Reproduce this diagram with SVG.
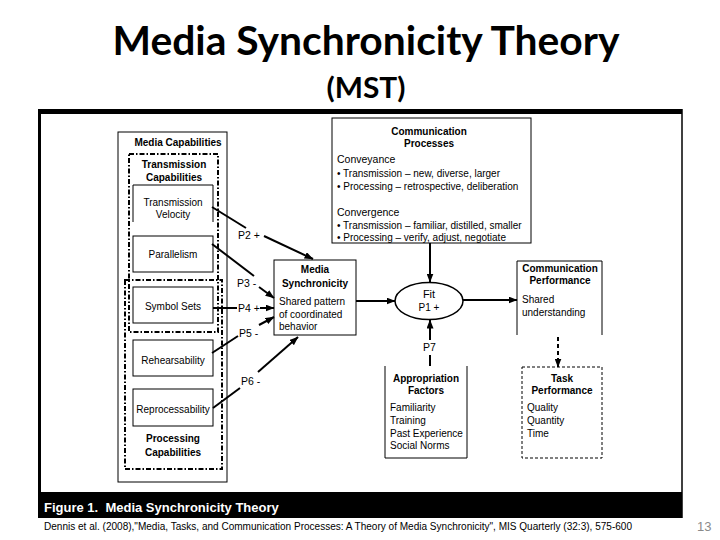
<svg xmlns="http://www.w3.org/2000/svg" width="720" height="540" viewBox="0 0 720 540">
<style>
text{font-family:"Liberation Sans",Arial,sans-serif;fill:#000}
.t{font-size:10px}
.b{font-size:10px;font-weight:bold}
.c{text-anchor:middle}
.lbl{font-size:10.5px}
.box{fill:#fff;stroke:#000;stroke-width:1}
.open{fill:none;stroke:#000;stroke-width:1}
.dd{fill:none;stroke:#000;stroke-width:2;stroke-dasharray:5 2 1.5 2}
.conn line,.conn path{stroke:#000;stroke-width:2;fill:none}
.ttl{font-family:Lato,"Open Sans","Liberation Sans",sans-serif;font-weight:bold;text-anchor:middle}
</style>
<defs>
<marker id="ah" markerWidth="9" markerHeight="7" refX="8.5" refY="3.5" orient="auto" markerUnits="userSpaceOnUse">
<path d="M0,0 L9,3.5 L0,7 Z" fill="#000"/>
</marker>
</defs>
<rect width="720" height="540" fill="#fff"/>
<g id="title">
<text class="ttl" x="366" y="55" style="font-size:40px" textLength="507" lengthAdjust="spacingAndGlyphs">Media Synchronicity Theory</text>
<text class="ttl" x="366" y="98" style="font-size:28px" textLength="79" lengthAdjust="spacingAndGlyphs">(MST)</text>
</g>
<g id="frame">
<rect x="38" y="109" width="644" height="5" fill="#000"/>
<rect x="38" y="109" width="3" height="409" fill="#000"/>
<line x1="682" y1="109" x2="682" y2="518" stroke="#000" stroke-width="1.5"/>
<rect x="38" y="492" width="644" height="26" fill="#000"/>
<text x="44" y="512" style="font-size:13px;font-weight:bold;fill:#fff" xml:space="preserve">Figure 1.  Media Synchronicity Theory</text>
</g>
<g id="media-capabilities">
<rect class="box" x="118" y="132" width="109" height="350"/>
<text class="b c" x="178" y="146">Media Capabilities</text>
</g>
<g id="transmission-capabilities">
<rect class="dd" x="129" y="154" width="89" height="178"/>
<text class="b c" x="174" y="168">Transmission</text>
<text class="b c" x="174" y="181">Capabilities</text>
</g>
<g id="processing-capabilities">
<rect class="dd" x="125" y="280" width="97" height="189"/>
<text class="b c" x="173" y="442">Processing</text>
<text class="b c" x="173" y="456">Capabilities</text>
</g>
<g id="transmission-velocity">
<path class="open" d="M133,222 V185 H213 V222"/>
<text class="t c" x="173" y="206">Transmission</text>
<text class="t c" x="173" y="218">Velocity</text>
</g>
<g id="parallelism">
<rect class="box" x="133" y="236" width="80" height="36"/>
<text class="t c" x="173" y="258">Parallelism</text>
</g>
<g id="symbol-sets">
<rect class="box" x="133" y="287" width="80" height="36"/>
<text class="t c" x="173" y="310">Symbol Sets</text>
</g>
<g id="rehearsability">
<rect class="box" x="133" y="340" width="80" height="36"/>
<text class="t c" x="173" y="364">Rehearsability</text>
</g>
<g id="reprocessability">
<rect class="box" x="133" y="389" width="80" height="37"/>
<text class="t c" x="173" y="413">Reprocessability</text>
</g>
<g id="communication-processes">
<rect class="box" x="332" y="118" width="199" height="125"/>
<text class="b c" x="429" y="135">Communication</text>
<text class="b c" x="429" y="147">Processes</text>
<text x="337" y="163" style="font-size:10.5px">Conveyance</text>
<text class="t" x="337" y="177">• Transmission – new, diverse, larger</text>
<text class="t" x="337" y="190">• Processing – retrospective, deliberation</text>
<text x="337" y="216" style="font-size:10.5px">Convergence</text>
<text class="t" x="337" y="229">• Transmission – familiar, distilled, smaller</text>
<text class="t" x="337" y="241">• Processing – verify, adjust, negotiate</text>
</g>
<g id="media-synchronicity">
<rect class="box" x="274" y="260" width="82" height="75"/>
<text class="b c" x="315" y="273">Media</text>
<text class="b c" x="315" y="287">Synchronicity</text>
<text class="t" x="279" y="305">Shared pattern</text>
<text class="t" x="279" y="318">of coordinated</text>
<text class="t" x="279" y="330">behavior</text>
</g>
<g id="fit">
<ellipse cx="429" cy="301" rx="34" ry="18.5" fill="#fff" stroke="#000" stroke-width="1.5"/>
<text class="c" x="429" y="298" style="font-size:11px">Fit</text>
<text class="t c" x="429" y="311">P1 +</text>
</g>
<g id="communication-performance">
<path class="open" d="M517,335 V261 H602 V335"/>
<text class="b c" x="560" y="272">Communication</text>
<text class="b c" x="560" y="284">Performance</text>
<text class="t" x="522" y="303">Shared</text>
<text class="t" x="522" y="316">understanding</text>
</g>
<g id="task-performance">
<rect x="522" y="367" width="80" height="91" fill="none" stroke="#000" stroke-width="1" stroke-dasharray="3 2"/>
<text class="b c" x="562" y="382">Task</text>
<text class="b c" x="562" y="394">Performance</text>
<text class="t" x="527" y="411">Quality</text>
<text class="t" x="527" y="424">Quantity</text>
<text class="t" x="527" y="437">Time</text>
</g>
<g id="appropriation-factors">
<path class="open" d="M385,366 V458 H467 V366"/>
<text class="b c" x="426" y="382">Appropriation</text>
<text class="b c" x="426" y="394">Factors</text>
<text class="t" x="390" y="411">Familiarity</text>
<text class="t" x="390" y="424">Training</text>
<text class="t" x="390" y="437">Past Experience</text>
<text class="t" x="390" y="449">Social Norms</text>
</g>
<g id="connectors" class="conn">
<line x1="212" y1="207" x2="246" y2="228"/>
<line x1="264" y1="236" x2="313" y2="259" marker-end="url(#ah)"/>
<line x1="212" y1="244" x2="254" y2="276"/>
<line x1="259" y1="287" x2="274" y2="298" marker-end="url(#ah)"/>
<line x1="213" y1="308" x2="237" y2="308"/>
<line x1="260" y1="308" x2="274" y2="308" marker-end="url(#ah)"/>
<line x1="212" y1="353" x2="238" y2="336"/>
<line x1="259" y1="325" x2="274" y2="317" marker-end="url(#ah)"/>
<line x1="213" y1="408" x2="240" y2="388"/>
<line x1="258" y1="372" x2="298" y2="337" marker-end="url(#ah)"/>
<line x1="356" y1="301" x2="395" y2="301" marker-end="url(#ah)"/>
<line x1="430" y1="243" x2="430" y2="282" marker-end="url(#ah)"/>
<line x1="430" y1="366" x2="430" y2="355"/>
<line x1="430" y1="340" x2="430" y2="320" marker-end="url(#ah)"/>
<line x1="463" y1="300" x2="517" y2="300" marker-end="url(#ah)"/>
<line x1="558" y1="337" x2="558" y2="367" stroke-dasharray="4 3" marker-end="url(#ah)"/>
<text class="lbl" x="238" y="239">P2 +</text>
<text class="lbl" x="237" y="287">P3 -</text>
<text class="lbl" x="238" y="312">P4 +</text>
<text class="lbl" x="239" y="337">P5 -</text>
<text class="lbl" x="241" y="385">P6 -</text>
<text class="lbl" x="423" y="351">P7</text>
</g>
<g id="footer">
<text x="44" y="530" style="font-size:10px" textLength="588" lengthAdjust="spacingAndGlyphs">Dennis et al. (2008),"Media, Tasks, and Communication Processes: A Theory of Media Synchronicity", MIS Quarterly (32:3), 575-600</text>
<text x="697" y="531" style="font-size:13px;fill:#8a8a8a">13</text>
</g>
</svg>
